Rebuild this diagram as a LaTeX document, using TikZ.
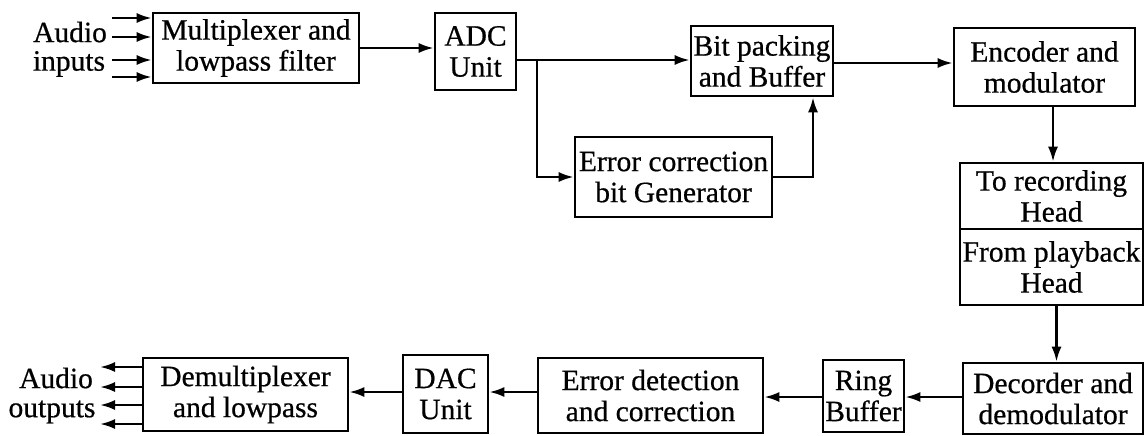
\documentclass[tikz,border=0pt]{standalone}
\usepackage{fontspec}
\setmainfont{Liberation Serif}[FakeBold=0.6]
\usetikzlibrary{arrows.meta}
\tikzset{
  blk/.style={draw, line width=2.6pt, inner sep=0pt, align=center,
    font=\fontsize{29.5}{31}\selectfont},
  lbl/.style={inner sep=0pt, align=center, font=\fontsize{29.5}{31}\selectfont},
  arr/.style={line width=2.4pt, -{Latex[length=15pt,width=10pt]}},
}
\begin{document}
\begin{tikzpicture}[x=1pt,y=-1pt]
\fill[white] (0,0) rectangle (1145,436);
\useasboundingbox (0,0) rectangle (1145,436);

% recording chain
\node[blk, minimum width=206pt, minimum height=70pt] (mux) at (256,48) {Multiplexer and\\lowpass filter};
\node[blk, minimum width=81pt, minimum height=77pt] (adc) at (475.5,51.5) {ADC\\Unit};
\node[blk, minimum width=142pt, minimum height=70pt] (bit) at (762,61) {Bit packing\\and Buffer};
\node[blk, minimum width=197pt, minimum height=80pt] (ecg) at (673.5,177) {Error correction\\bit Generator};
\node[blk, minimum width=181pt, minimum height=78pt] (enc) at (1044.5,67) {Encoder and\\modulator};

% head block
\node[blk, minimum width=183pt, minimum height=66pt] (rec) at (1051.5,196) {To recording\\Head};
\node[blk, minimum width=183pt, minimum height=76pt] (play) at (1051.5,267) {From playback\\Head};

% playback chain
\node[blk, minimum width=180pt, minimum height=71pt] (dec) at (1053,398.5) {Decorder and\\demodulator};
\node[blk, minimum width=81pt, minimum height=72pt] (ring) at (863.5,396) {Ring\\Buffer};
\node[blk, minimum width=225pt, minimum height=75pt] (edc) at (650.5,395.5) {Error detection\\and correction};
\node[blk, minimum width=85pt, minimum height=78pt] (dac) at (445.5,394) {DAC\\Unit};
\node[blk, minimum width=205pt, minimum height=73pt] (demux) at (245.5,394.5) {Demultiplexer\\and lowpass};

% side labels
\node[lbl] (ain) at (70,32) {Audio};
\node[lbl] (ain2) at (69,64) {inputs};
\node[lbl] (aout) at (56,378) {Audio};
\node[lbl] (aout2) at (52,412) {outputs};

% input and output channels
\foreach \y [count=\i] in {18,37,60,77} {
  \coordinate (in\i) at (112,\y);
  \draw[arr] (in\i) -- (mux.west |- in\i);
}
\foreach \y [count=\i] in {367,387,405,424} {
  \coordinate (out\i) at (100,\y);
  \draw[arr] (demux.west |- out\i) -- (out\i);
}

% connectors
\draw[arr] (mux.east) -- (adc.west |- mux.east);
\coordinate (br) at (537,60);
\draw[arr] (adc.east |- br) -- (bit.west |- br);
\draw[arr] (br) |- (ecg.west);
\coordinate (fb) at (813,0);
\draw[arr] (ecg.east) -| (fb |- bit.south);
\draw[arr] (bit.east |- 0,63) -- (enc.west |- 0,63);
\draw[arr] ([xshift=8.5pt]enc.south) -- ([xshift=8.5pt]enc.south |- rec.north);
\draw[arr] ([xshift=5pt]play.south) -- ([xshift=5pt]play.south |- dec.north);
\draw[arr] (dec.west |- 0,397) -- (ring.east |- 0,397);
\draw[arr] (ring.west |- 0,397) -- (edc.east |- 0,397);
\draw[arr] (edc.west |- 0,392) -- (dac.east |- 0,392);
\draw[arr] (dac.west |- 0,392) -- (demux.east |- 0,392);
\end{tikzpicture}
\end{document}
